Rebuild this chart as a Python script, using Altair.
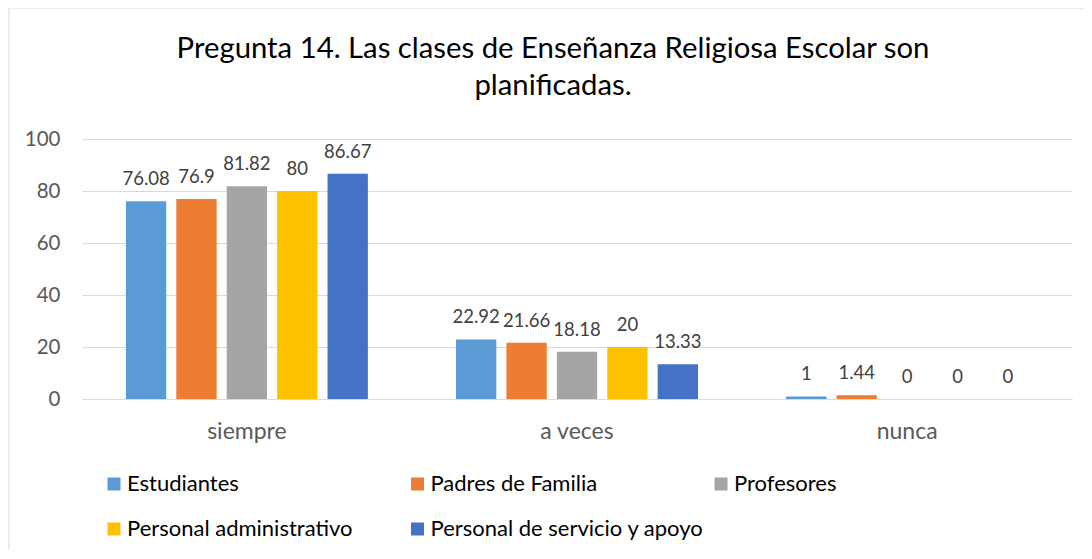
import altair as alt
import pandas as pd

categories = ["siempre", "a veces", "nunca"]
series = ["Estudiantes", "Padres de Familia", "Profesores",
          "Personal administrativo", "Personal de servicio y apoyo"]
estudiantes = [76.08, 22.92, 1]
padres = [76.9, 21.66, 1.44]
profesores = [81.82, 18.18, 0]
administrativo = [80, 20, 0]
servicio = [86.67, 13.33, 0]
colors = ["#5B9BD5", "#ED7D31", "#A5A5A5", "#FFC000", "#4472C4"]
y_ticks = [0, 20, 40, 60, 80, 100]
title_lines = ["Pregunta 14. Las clases de Enseñanza Religiosa Escolar son",
               "planificadas."]

rows = []
for s, vals in zip(series, [estudiantes, padres, profesores, administrativo, servicio]):
    for c, v in zip(categories, vals):
        rows.append({"categoria": c, "grupo": s, "valor": v, "etiqueta": f"{v:g}"})
df = pd.DataFrame(rows)

# legend is laid out column by column (2 rows); order entries so rows read
# Estudiantes, Padres, Profesores / Administrativo, Servicio
legend_order = [series[0], series[3], series[1], series[4], series[2]]
color_of = dict(zip(series, colors))
legend_colors = [color_of[s] for s in legend_order]

FONT = "Lato"

x_enc = alt.X("categoria:N", sort=categories, title=None,
              scale=alt.Scale(paddingInner=0.267, paddingOuter=0.133),
              axis=alt.Axis(labelAngle=0, labelFontSize=23, labelFont=FONT,
                            labelColor="#595959", labelPadding=21, ticks=False,
                            domainColor="#d9d9d9", domainWidth=1))
xoff = alt.XOffset("grupo:N", sort=series,
                   scale=alt.Scale(paddingInner=0.2, paddingOuter=0))
y_enc = alt.Y("valor:Q", title=None, scale=alt.Scale(domain=[0, 100]),
              axis=alt.Axis(values=y_ticks, labelFontSize=20.5, labelFont=FONT,
                            labelColor="#595959", labelPadding=22, ticks=False,
                            domain=False, gridColor="#d9d9d9", gridWidth=1))

base = alt.Chart(df)

bars = base.mark_bar().encode(
    x=x_enc, xOffset=xoff, y=y_enc,
    color=alt.Color("grupo:N",
                    scale=alt.Scale(domain=legend_order, range=legend_colors),
                    legend=alt.Legend(title=None, orient="none", legendX=21, legendY=334,
                                      columns=3, symbolType="square", symbolSize=169,
                                      symbolStrokeWidth=0, labelFontSize=22,
                                      labelFont=FONT, labelColor="#000000",
                                      labelOffset=2, columnPadding=5.5, rowPadding=23,
                                      gridAlign="all", padding=0, labelLimit=500)),
)

labels = base.mark_text(fontSize=18.5, font=FONT, color="#404040",
                        baseline="alphabetic", dy=-16).encode(
    x=alt.X("categoria:N", sort=categories),
    xOffset=alt.XOffset("grupo:N", sort=series),
    y="valor:Q",
    text="etiqueta:N",
)

frame_df = pd.DataFrame({"k": [0]})
frame_v = alt.Chart(frame_df).mark_rule(color="#d9d9d9", strokeWidth=1).encode(
    x=alt.value(-73), y=alt.value(-131), y2=alt.value(430))
frame_h = alt.Chart(frame_df).mark_rule(color="#d9d9d9", strokeWidth=1).encode(
    x=alt.value(-73), x2=alt.value(1010), y=alt.value(-131))

chart = alt.layer(bars, labels, frame_v, frame_h).properties(
    width=990, height=260,
    title=alt.TitleParams(text=title_lines, fontSize=29.3, font=FONT, color="#000000",
                          fontWeight="normal", anchor="middle", dx=-24, offset=0,
                          dy=94, lineHeight=37.5),
    autosize=alt.AutoSizeParams(type="none"),
    padding={"left": 74, "top": 131, "right": 12, "bottom": 150},
).configure_view(stroke=None)

chart.save("out.html", embed_options={"renderer": "svg", "actions": False})
